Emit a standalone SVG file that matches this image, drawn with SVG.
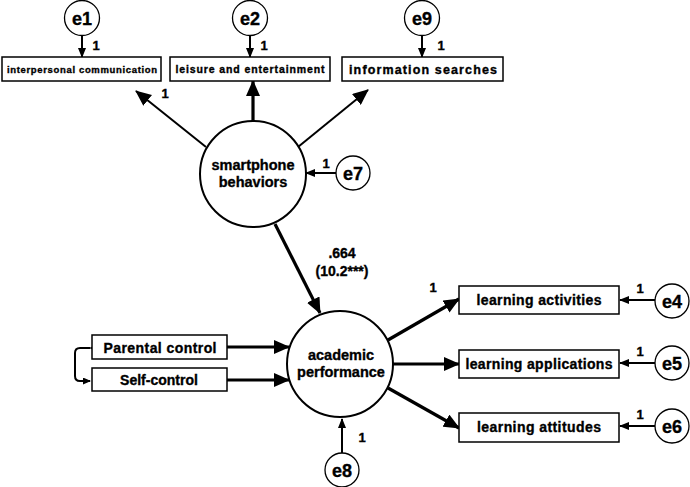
<svg xmlns="http://www.w3.org/2000/svg" width="690" height="487" viewBox="0 0 690 487">
<style>
text{font-family:"Liberation Sans",Arial,sans-serif;font-weight:bold;fill:#000;stroke:#000;stroke-width:0.35;text-anchor:middle}
.box{fill:#fff;stroke:#000;stroke-width:1.5}
.circ{fill:#fff;stroke:#000;stroke-width:2}
.ec{fill:#fff;stroke:#000;stroke-width:1.3}
.e{font-size:18px}
.n{font-size:14.5px}
.lab{font-size:13px}
.thin{stroke:#000;stroke-width:2;fill:none}
.thick{stroke:#000;stroke-width:3.2;fill:none}
</style>
<defs>
<marker id="a" markerWidth="10" markerHeight="8" refX="9" refY="4" orient="auto" markerUnits="userSpaceOnUse"><path d="M0,0 L10,4 L0,8 Z" fill="#000"/></marker>
<marker id="b" markerWidth="16" markerHeight="14" refX="15" refY="7" orient="auto" markerUnits="userSpaceOnUse"><path d="M0,0 L16,7 L0,14 Z" fill="#000"/></marker>
<marker id="c" markerWidth="8" markerHeight="7" refX="7" refY="3.5" orient="auto" markerUnits="userSpaceOnUse"><path d="M0,0 L8,3.5 L0,7 Z" fill="#000"/></marker>
</defs>
<g id="connectors">
<line class="thin" x1="82" y1="36" x2="82" y2="57" marker-end="url(#a)"/>
<line class="thin" x1="250" y1="36" x2="250" y2="57" marker-end="url(#a)"/>
<line class="thin" x1="422" y1="36" x2="422" y2="57" marker-end="url(#a)"/>
<line class="thick" x1="253" y1="121" x2="253" y2="81" marker-end="url(#b)"/>
<line class="thin" x1="206" y1="147" x2="136" y2="91" marker-end="url(#b)"/>
<line class="thin" x1="298" y1="147" x2="368" y2="90" marker-end="url(#b)"/>
<line class="thin" x1="336" y1="173" x2="306" y2="173" marker-end="url(#a)"/>
<line class="thick" x1="275" y1="224" x2="320" y2="313" marker-end="url(#b)"/>
<line class="thick" x1="227" y1="347" x2="289" y2="347" marker-end="url(#b)"/>
<line class="thick" x1="227" y1="380" x2="289" y2="380" marker-end="url(#b)"/>
<path class="thin" d="M90,348 L80,348 Q75,348 75,353 L75,376 Q75,381 80,381 L90,381" marker-start="url(#c)" marker-end="url(#c)"/>
<line class="thin" x1="342" y1="453" x2="342" y2="419" marker-end="url(#a)"/>
<line class="thick" x1="388" y1="340" x2="459" y2="299" marker-end="url(#b)"/>
<line class="thick" x1="393" y1="364" x2="459" y2="364" marker-end="url(#b)"/>
<line class="thick" x1="388" y1="388" x2="459" y2="428" marker-end="url(#b)"/>
<line class="thin" x1="655" y1="300" x2="620" y2="300" marker-end="url(#a)"/>
<line class="thin" x1="655" y1="363" x2="620" y2="363" marker-end="url(#a)"/>
<line class="thin" x1="655" y1="426" x2="620" y2="426" marker-end="url(#a)"/>
</g>
<g id="edge-labels" class="lab">
<text x="96" y="50">1</text>
<text x="264" y="50">1</text>
<text x="441" y="50">1</text>
<text x="165" y="98">1</text>
<text x="326" y="168">1</text>
<text x="342" y="258" font-size="14">.664</text>
<text x="342" y="276" font-size="14">(10.2***)</text>
<text x="362" y="442">1</text>
<text x="433" y="292">1</text>
<text x="640" y="293">1</text>
<text x="640" y="356">1</text>
<text x="640" y="419">1</text>
</g>
<g id="e1"><circle class="ec" cx="82" cy="18" r="17.5"/><text class="e" x="82" y="24.5">e1</text></g>
<g id="e2"><circle class="ec" cx="250" cy="18" r="17.5"/><text class="e" x="250" y="24.5">e2</text></g>
<g id="e9"><circle class="ec" cx="422" cy="18" r="17.5"/><text class="e" x="422" y="24.5">e9</text></g>
<g id="interpersonal-communication"><rect class="box" x="2" y="57" width="159" height="24"/><text x="82" y="73" font-size="9.5" textLength="150" lengthAdjust="spacing">interpersonal communication</text></g>
<g id="leisure-and-entertainment"><rect class="box" x="170" y="57" width="160" height="24"/><text x="250" y="73" font-size="10.5" textLength="149" lengthAdjust="spacing">leisure and entertainment</text></g>
<g id="information-searches"><rect class="box" x="342" y="57" width="161" height="24"/><text x="423" y="74" font-size="12.5" textLength="148" lengthAdjust="spacing">information searches</text></g>
<g id="smartphone-behaviors"><circle class="circ" cx="253" cy="174" r="53"/><text class="n" x="253" y="170">smartphone</text><text class="n" x="253" y="187">behaviors</text></g>
<g id="e7"><circle class="ec" cx="353" cy="173" r="17"/><text class="e" x="353" y="179.5">e7</text></g>
<g id="parental-control"><rect class="box" x="92" y="335" width="135" height="24"/><text x="160" y="352.5" font-size="14" textLength="113" lengthAdjust="spacing">Parental control</text></g>
<g id="self-control"><rect class="box" x="92" y="368" width="135" height="23"/><text x="159" y="385" font-size="14">Self-control</text></g>
<g id="academic-performance"><circle class="circ" cx="340" cy="364" r="53"/><text class="n" x="341" y="360">academic</text><text class="n" x="341" y="377">performance</text></g>
<g id="e8"><circle class="ec" cx="342" cy="470" r="17"/><text class="e" x="342" y="476.5">e8</text></g>
<g id="learning-activities"><rect class="box" x="459" y="286" width="160" height="28"/><text x="539" y="305" font-size="14" textLength="125" lengthAdjust="spacing">learning activities</text></g>
<g id="learning-applications"><rect class="box" x="459" y="350" width="160" height="28"/><text x="539" y="369" font-size="14" textLength="147" lengthAdjust="spacing">learning applications</text></g>
<g id="learning-attitudes"><rect class="box" x="459" y="413" width="160" height="29"/><text x="539" y="432" font-size="14" textLength="124" lengthAdjust="spacing">learning attitudes</text></g>
<g id="e4"><circle class="ec" cx="672" cy="301" r="17"/><text class="e" x="672" y="307.5">e4</text></g>
<g id="e5"><circle class="ec" cx="672" cy="363" r="17"/><text class="e" x="672" y="369.5">e5</text></g>
<g id="e6"><circle class="ec" cx="672" cy="426" r="17"/><text class="e" x="672" y="432.5">e6</text></g>
</svg>
